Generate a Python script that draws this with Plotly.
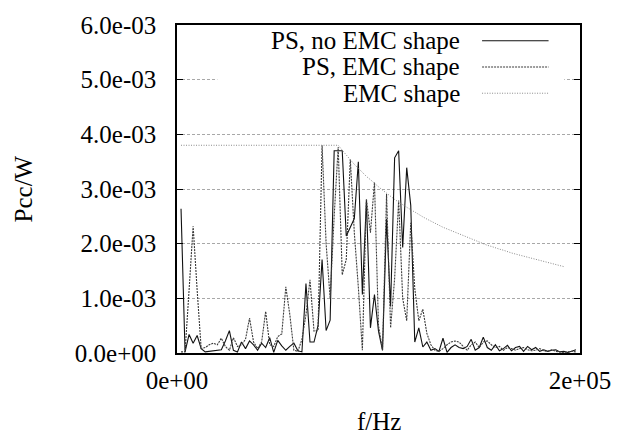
import plotly.graph_objects as go

# Frequency grid (kHz) shared by both power spectra
freq_khz = [2, 4, 6, 8, 10, 12, 14, 16, 18, 20, 22, 24, 26, 28, 30, 32, 34, 36, 38, 40,
            42, 44, 46, 48, 50, 52, 54, 56, 58, 60, 62, 64, 66, 68, 70, 72, 74, 76, 78, 80,
            82, 84, 86, 88, 90, 92, 94, 96, 98, 100, 102, 104, 106, 108, 110, 112, 114, 116, 118, 120,
            122, 124, 126, 128, 130, 132, 134, 136, 138, 140, 142, 144, 146, 148, 150, 152, 154, 156, 158, 160,
            162, 164, 166, 168, 170, 172, 174, 176, 178, 180, 182, 184, 186, 188, 190, 192, 194, 196, 198]

# Power spectrum without EMC shaping (mW)
ps_no_emc_mw = [2.64, 0.02, 0.34, 0.18, 0.32, 0.08, 0.02, 0.03, 0.04, 0.04,
                0.06, 0.22, 0.41, 0.05, 0.02, 0.20, 0.08, 0.22, 0.15, 0.05,
                0.18, 0.10, 0.28, 0.01, 0.23, 0.13, 0.05, 0.12, 0.18, 0.04,
                0.02, 1.27, 0.20, 0.20, 0.50, 1.71, 0.41, 0.60, 3.70, 3.70,
                3.70, 2.14, 2.30, 2.46, 3.50, 1.07, 2.79, 0.46, 1.07, 0.40,
                0.05, 2.45, 0.85, 3.57, 3.70, 1.93, 3.39, 2.70, 0.20, 0.46,
                0.11, 0.20, 0.05, 0.08, 0.03, 0.27, 0.01, 0.10, 0.15, 0.10,
                0.08, 0.12, 0.25, 0.05, 0.10, 0.29, 0.10, 0.05, 0.15, 0.04,
                0.08, 0.14, 0.04, 0.10, 0.12, 0.03, 0.12, 0.06, 0.10, 0.03,
                0.06, 0.03, 0.05, 0.06, 0.02, 0.03, 0.01, 0.04, 0.06]

# Power spectrum with EMC shaping (mW)
ps_emc_mw = [0.02, 0.02, 1.15, 2.32, 1.15, 0.08, 0.10, 0.15, 0.18, 0.15,
             0.27, 0.12, 0.05, 0.28, 0.12, 0.15, 0.25, 0.64, 0.20, 0.08,
             0.20, 0.76, 0.15, 0.12, 0.30, 0.35, 1.21, 0.70, 0.05, 0.03,
             0.25, 0.70, 1.34, 0.40, 0.41, 3.80, 2.00, 1.00, 2.50, 3.77,
             1.43, 1.71, 3.54, 2.20, 1.20, 0.05, 2.82, 2.20, 3.12, 0.50,
             0.05, 2.91, 0.46, 1.36, 2.79, 1.00, 0.59, 2.38, 1.18, 0.59,
             0.80, 0.36, 0.15, 0.05, 0.03, 0.08, 0.15, 0.20, 0.22, 0.20,
             0.12, 0.05, 0.15, 0.20, 0.10, 0.20, 0.22, 0.15, 0.10, 0.12,
             0.05, 0.10, 0.08, 0.05, 0.08, 0.10, 0.06, 0.04, 0.05, 0.08,
             0.04, 0.03, 0.06, 0.03, 0.02, 0.01, 0.02, 0.03, 0.02]

# EMC limit mask (mW) on its own frequency grid
emc_freq_khz = [2, 4, 6, 8, 10, 12, 14, 16, 18, 20, 22, 24, 26, 28, 30, 32, 34, 36, 38, 40,
                42, 44, 46, 48, 50, 52, 54, 56, 58, 60, 62, 64, 66, 68, 70, 72, 74, 76, 78, 80,
                82, 84, 86, 88, 90, 92, 94, 96, 98, 100, 102, 104, 106, 108, 110, 112, 114, 116, 118, 120,
                122, 124, 126, 128, 130, 132, 134, 136, 138, 140, 142, 144, 146, 148, 150, 152, 154, 156, 158, 160,
                162, 164, 166, 168, 170, 172, 174, 176, 178, 180, 182, 184, 186, 188, 190, 192]
emc_mask_mw = [3.80, 3.80, 3.80, 3.80, 3.80, 3.80, 3.80, 3.80, 3.80, 3.80,
               3.80, 3.80, 3.80, 3.80, 3.80, 3.80, 3.80, 3.80, 3.80, 3.80,
               3.80, 3.80, 3.80, 3.80, 3.80, 3.80, 3.80, 3.80, 3.80, 3.80,
               3.80, 3.80, 3.80, 3.80, 3.80, 3.80, 3.80, 3.80, 3.80, 3.80,
               3.71, 3.62, 3.53, 3.45, 3.38, 3.30, 3.23, 3.17, 3.10, 3.04,
               2.98, 2.92, 2.87, 2.81, 2.76, 2.71, 2.67, 2.62, 2.58, 2.53,
               2.49, 2.45, 2.41, 2.38, 2.34, 2.30, 2.27, 2.24, 2.20, 2.17,
               2.14, 2.11, 2.08, 2.05, 2.03, 2.00, 1.97, 1.95, 1.92, 1.90,
               1.88, 1.85, 1.83, 1.81, 1.79, 1.77, 1.75, 1.73, 1.71, 1.69,
               1.67, 1.65, 1.63, 1.62, 1.60, 1.58]

series_names = ["PS, no EMC shape", "PS, EMC shape", "EMC shape"]
y_tick_vals = [0.0, 0.001, 0.002, 0.003, 0.004, 0.005, 0.006]
y_tick_text = ["0.0e+00", "1.0e-03", "2.0e-03", "3.0e-03", "4.0e-03", "5.0e-03", "6.0e-03"]
x_tick_vals = [0, 200000]
x_tick_text = ["0e+00", "2e+05"]

FONT = "Times New Roman, Liberation Serif, DejaVu Serif, serif"
FSIZE = 25
styles = [
    dict(color="#111111", width=1.1, dash="solid"),
    dict(color="#3a3a3a", width=1.1, dash="2px,1px"),
    dict(color="#8a8a8a", width=1.0, dash="1px,1.5px"),
]

f_hz = [f * 1000 for f in freq_khz]
emc_hz = [f * 1000 for f in emc_freq_khz]

fig = go.Figure()
fig.add_trace(go.Scatter(x=f_hz, y=[v * 1e-3 for v in ps_no_emc_mw], mode="lines",
                         line=styles[0], name=series_names[0]))
fig.add_trace(go.Scatter(x=f_hz, y=[v * 1e-3 for v in ps_emc_mw], mode="lines",
                         line=styles[1], name=series_names[1]))
fig.add_trace(go.Scatter(x=emc_hz, y=[v * 1e-3 for v in emc_mask_mw], mode="lines",
                         line=styles[2], name=series_names[2]))

# Key box (opaque, hides grid behind it) with right-aligned labels and samples
shapes = [dict(type="rect", xref="paper", yref="paper", x0=0.10, x1=0.961, y0=0.755, y1=0.998,
               fillcolor="white", line=dict(width=0), layer="above")]
annotations = []
key_rows = [0.952, 0.872, 0.792]
for name, st, yk in zip(series_names, styles, key_rows):
    annotations.append(dict(text=name, xref="paper", yref="paper", x=0.706, y=yk,
                            xanchor="right", yanchor="middle", showarrow=False,
                            font=dict(family=FONT, size=FSIZE, color="black")))
    shapes.append(dict(type="line", xref="paper", yref="paper", x0=0.757, x1=0.922,
                       y0=yk, y1=yk, line=st, layer="above"))

annotations.append(dict(text="Pcc/W", xref="paper", yref="paper", x=-0.381, y=0.5,
                        textangle=-90, xanchor="center", yanchor="middle", showarrow=False,
                        font=dict(family=FONT, size=FSIZE, color="black")))
annotations.append(dict(text="f/Hz", xref="paper", yref="paper", x=0.5, y=-0.208,
                        xanchor="center", yanchor="middle", showarrow=False,
                        font=dict(family=FONT, size=FSIZE, color="black")))

fig.update_layout(
    width=623, height=435,
    margin=dict(l=177, r=34, t=17, b=82),
    paper_bgcolor="white", plot_bgcolor="white",
    showlegend=False,
    font=dict(family=FONT, size=FSIZE, color="black"),
    shapes=shapes, annotations=annotations,
)
fig.update_xaxes(range=[0, 200000], tickvals=x_tick_vals, ticktext=x_tick_text,
                 showgrid=False, zeroline=False, showline=True, linecolor="black", linewidth=1.5,
                 mirror="ticks", ticks="inside", ticklen=6, tickcolor="black",
                 tickfont=dict(family=FONT, size=FSIZE), ticklabelstandoff=4)
fig.update_yaxes(range=[0, 0.006], tickvals=y_tick_vals, ticktext=y_tick_text,
                 showgrid=True, gridcolor="#a8a8a8", gridwidth=1, griddash="3px,2px",
                 zeroline=False, showline=True, linecolor="black", linewidth=1.5,
                 mirror="ticks", ticks="inside", ticklen=6, tickcolor="black",
                 tickfont=dict(family=FONT, size=FSIZE), ticklabelstandoff=14)

fig.write_html("out.html")
